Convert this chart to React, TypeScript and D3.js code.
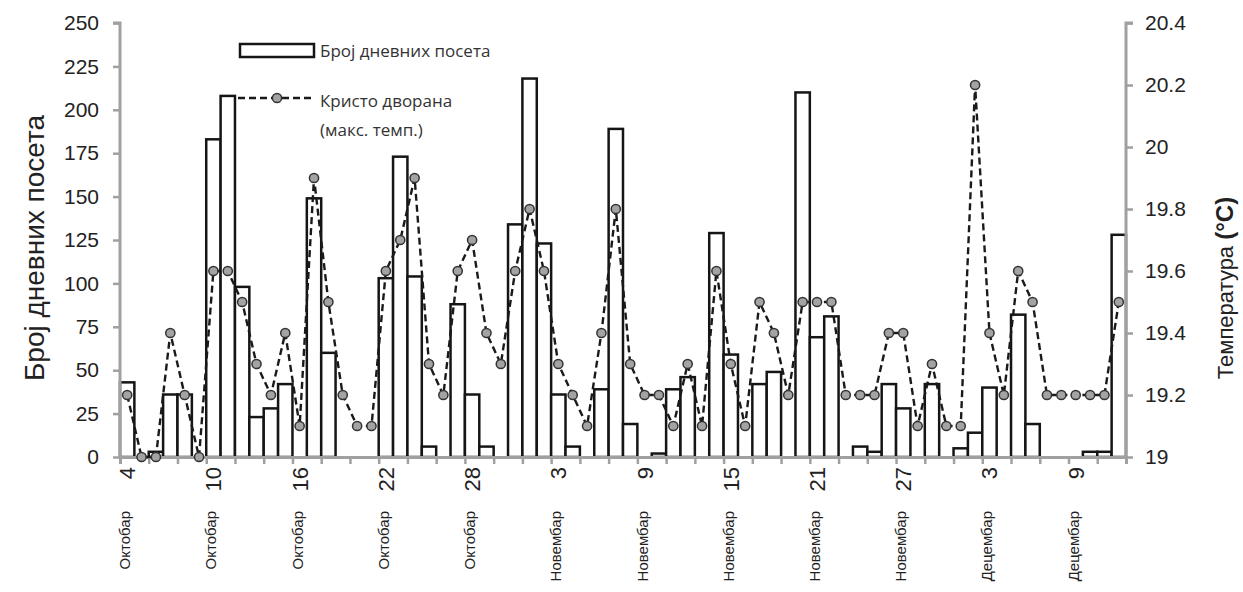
import { useEffect, useRef } from "react";
import * as d3 from "d3";

// daily visits (bars) and max hall temperature (line), Oct 4 – Dec 12
const visits = [
  43, 0, 3, 36, 36, 0, 183, 208, 98, 23,
  28, 42, 0, 149, 60, 0, 0, 0, 103, 173,
  104, 6, 0, 88, 36, 6, 0, 134, 218, 123,
  36, 6, 0, 39, 189, 19, 0, 2, 39, 46,
  0, 129, 59, 0, 42, 49, 0, 210, 69, 81,
  0, 6, 3, 42, 28, 0, 42, 0, 5, 14,
  40, 0, 82, 19, 0, 0, 0, 3, 3, 128,
];
const temps = [
  19.2, 19.0, 19.0, 19.4, 19.2, 19.0, 19.6, 19.6, 19.5, 19.3,
  19.2, 19.4, 19.1, 19.9, 19.5, 19.2, 19.1, 19.1, 19.6, 19.7,
  19.9, 19.3, 19.2, 19.6, 19.7, 19.4, 19.3, 19.6, 19.8, 19.6,
  19.3, 19.2, 19.1, 19.4, 19.8, 19.3, 19.2, 19.2, 19.1, 19.3,
  19.1, 19.6, 19.3, 19.1, 19.5, 19.4, 19.2, 19.5, 19.5, 19.5,
  19.2, 19.2, 19.2, 19.4, 19.4, 19.1, 19.3, 19.1, 19.1, 20.2,
  19.4, 19.2, 19.6, 19.5, 19.2, 19.2, 19.2, 19.2, 19.2, 19.5,
];
const tickDays = ["4", "10", "16", "22", "28", "3", "9", "15", "21", "27", "3", "9"];
const tickMonths = [
  "Октобар", "Октобар", "Октобар", "Октобар", "Октобар",
  "Новембар", "Новембар", "Новембар", "Новембар", "Новембар",
  "Децембар", "Децембар",
];
const leftTicks = [0, 25, 50, 75, 100, 125, 150, 175, 200, 225, 250];
const rightTicks = [19, 19.2, 19.4, 19.6, 19.8, 20, 20.2, 20.4];

const W = 1243;
const H = 592;
const FONT = "'Liberation Sans', Arial, sans-serif";
const LEGEND_FONT = "'Open Sans', 'Noto Sans', sans-serif";
const AXIS_GREY = "#a0a0a0";

const App = () => {
  const svgRef = useRef<SVGSVGElement>(null);
  const margin = { top: 23, right: 117, bottom: 135, left: 120 };

  useEffect(() => {
    const svg = d3.select(svgRef.current);
    svg.selectAll("*").remove();

    const x = d3
      .scaleBand<number>()
      .domain(d3.range(visits.length))
      .range([margin.left, W - margin.right])
      .padding(0);
    const yL = d3.scaleLinear().domain([0, 250]).range([H - margin.bottom, margin.top]);
    const yR = d3.scaleLinear().domain([19, 20.4]).range([H - margin.bottom, margin.top]);
    const y0 = H - margin.bottom;
    const cx = (i: number) => (x(i) as number) + x.bandwidth() / 2;

    // bars (zero days get no bar)
    const barData = visits.map((v, i) => ({ v, i })).filter((d) => d.v > 0);
    svg
      .append("g")
      .selectAll("rect")
      .data(barData)
      .enter()
      .append("rect")
      .attr("x", (d) => x(d.i) as number)
      .attr("y", (d) => yL(d.v))
      .attr("width", x.bandwidth())
      .attr("height", (d) => y0 - yL(d.v))
      .attr("fill", "#fff")
      .attr("stroke", "#151515")
      .attr("stroke-width", 2.5);

    // left axis
    const gL = svg
      .append("g")
      .attr("transform", `translate(${margin.left},0)`)
      .call(d3.axisLeft(yL).tickValues(leftTicks).tickSize(7).tickPadding(14));
    // right axis
    const gR = svg
      .append("g")
      .attr("transform", `translate(${W - margin.right},0)`)
      .call(
        d3
          .axisRight(yR)
          .tickValues(rightTicks)
          .tickSize(7)
          .tickPadding(12)
          .tickFormat((d) => d3.format("")(+(+d).toFixed(1)))
      );
    // bottom axis, tick every second day
    const gB = svg
      .append("g")
      .attr("transform", `translate(0,${y0})`)
      .call(
        d3
          .axisBottom(d3.scaleLinear().domain([0, visits.length]).range([margin.left, W - margin.right]))
          .tickValues(d3.range(0, visits.length + 1, 2))
          .tickSize(7)
          .tickFormat(() => "")
      );
    [gL, gR, gB].forEach((g) => {
      g.select(".domain").attr("stroke", AXIS_GREY).attr("stroke-width", 3);
      g.selectAll(".tick line").attr("stroke", AXIS_GREY).attr("stroke-width", 2.5);
      g.selectAll(".tick text")
        .attr("fill", "#222")
        .style("font-family", FONT)
        .style("font-size", "21px");
    });
    gL.select(".domain").attr("d", `M-7,${margin.top}H0V${y0}`);
    gR.select(".domain").attr("d", `M7,${margin.top}H0V${y0}`);

    // x labels: day number and month, rotated
    const labels = svg
      .append("g")
      .selectAll("g")
      .data(tickDays)
      .enter()
      .append("g")
      .attr("transform", (d, i) => `translate(${cx(i * 6)},0)`);
    labels
      .append("text")
      .attr("transform", `translate(8,${y0 + 10}) rotate(-90)`)
      .attr("text-anchor", "end")
      .style("font-family", FONT)
      .style("font-size", "22px")
      .attr("fill", "#222")
      .text((d) => d);
    labels
      .append("text")
      .attr("transform", `translate(3,${y0 + 54}) rotate(-90)`)
      .attr("text-anchor", "end")
      .style("font-family", FONT)
      .style("font-size", "15px")
      .attr("fill", "#222")
      .text((d, i) => tickMonths[i]);

    // temperature line
    const line = d3
      .line<number>()
      .x((d, i) => cx(i))
      .y((d) => yR(d));
    svg
      .append("path")
      .datum(temps)
      .attr("d", line)
      .attr("fill", "none")
      .attr("stroke", "#1a1a1a")
      .attr("stroke-width", 2.4)
      .attr("stroke-dasharray", "7,4");
    svg
      .append("g")
      .selectAll("circle")
      .data(temps)
      .enter()
      .append("circle")
      .attr("cx", (d, i) => cx(i))
      .attr("cy", (d) => yR(d))
      .attr("r", 4.6)
      .attr("fill", "#a3a3a3")
      .attr("stroke", "#333")
      .attr("stroke-width", 1.5);

    // legend
    const lg = svg.append("g");
    lg.append("rect")
      .attr("x", 240)
      .attr("y", 44)
      .attr("width", 74)
      .attr("height", 13)
      .attr("fill", "#fff")
      .attr("stroke", "#151515")
      .attr("stroke-width", 2.5);
    lg.append("text")
      .attr("x", 320)
      .attr("y", 57)
      .style("font-family", LEGEND_FONT)
      .style("font-size", "17px")
      .attr("fill", "#333")
      .text("Број дневних посета");
    lg.append("line")
      .attr("x1", 238)
      .attr("x2", 314)
      .attr("y1", 98)
      .attr("y2", 98)
      .attr("stroke", "#1a1a1a")
      .attr("stroke-width", 2.4)
      .attr("stroke-dasharray", "7,4");
    lg.append("circle")
      .attr("cx", 277)
      .attr("cy", 98)
      .attr("r", 4.6)
      .attr("fill", "#a3a3a3")
      .attr("stroke", "#333")
      .attr("stroke-width", 1.5);
    lg.append("text")
      .attr("x", 320)
      .attr("y", 107)
      .style("font-family", LEGEND_FONT)
      .style("font-size", "17px")
      .attr("fill", "#333")
      .text("Кристо дворана");
    lg.append("text")
      .attr("x", 320)
      .attr("y", 136)
      .style("font-family", LEGEND_FONT)
      .style("font-size", "17px")
      .attr("fill", "#333")
      .text("(макс. темп.)");

    // axis titles
    svg
      .append("text")
      .attr("transform", `translate(44,${(margin.top + y0) / 2 + 8}) rotate(-90)`)
      .attr("text-anchor", "middle")
      .style("font-family", FONT)
      .style("font-size", "28px")
      .attr("fill", "#222")
      .text("Број дневних посета");
    const rt = svg
      .append("text")
      .attr("transform", `translate(1233,${(margin.top + y0) / 2 + 48}) rotate(-90)`)
      .attr("text-anchor", "middle")
      .style("font-family", FONT)
      .style("font-size", "22px")
      .attr("fill", "#222");
    rt.append("tspan").text("Температура ");
    rt.append("tspan").attr("font-weight", "bold").attr("font-size", "24px").text(" (°C)");
  }, []);

  return (
    <svg
      ref={svgRef}
      width={W}
      height={H}
      viewBox={`0 0 ${W} ${H}`}
      style={{ position: "absolute", left: 0, top: 0, background: "#fff" }}
    ></svg>
  );
};

export default App;
